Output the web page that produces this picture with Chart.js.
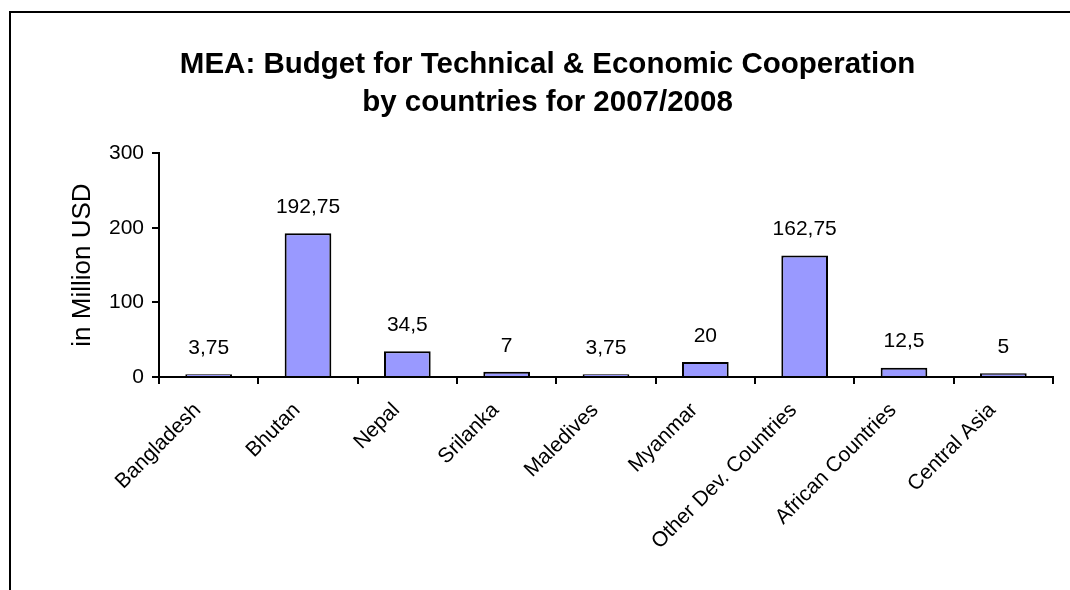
<!DOCTYPE html>
<html>
<head>
<meta charset="utf-8">
<script src="https://cdn.jsdelivr.net/npm/chart.js@4.4.0/dist/chart.umd.min.js"></script>
<style>
  html, body { margin: 0; padding: 0; background: #fff; }
  #wrap { position: relative; width: 1070px; height: 590px; }
  #frame {
    position: absolute; left: 9px; top: 11px; right: -5px; bottom: -5px;
    border-left: 2px solid #000; border-top: 2px solid #000;
  }
  canvas { position: absolute; left: 0; top: 0; }
</style>
</head>
<body>
<div id="wrap">
  <div id="frame"></div>
  <canvas id="chart" width="1070" height="590"></canvas>
</div>
<script>
const categories = ['Bangladesh', 'Bhutan', 'Nepal', 'Srilanka', 'Maledives', 'Myanmar', 'Other Dev. Countries', 'African Countries', 'Central Asia'];
const budget = [3.75, 192.75, 34.5, 7, 3.75, 20, 162.75, 12.5, 5];
const yTicks = [0, 100, 200, 300];
const titleLines = ['MEA: Budget for Technical & Economic Cooperation', 'by countries for 2007/2008'];

Chart.defaults.font.family = '"Liberation Sans", Arial, sans-serif';
Chart.defaults.color = '#000';

// value labels above each bar, comma as decimal separator
const valueLabels = {
  id: 'valueLabels',
  afterDatasetsDraw(chart) {
    const ctx = chart.ctx;
    const meta = chart.getDatasetMeta(0);
    ctx.save();
    ctx.font = '21px "Liberation Sans", Arial, sans-serif';
    ctx.fillStyle = '#000';
    ctx.textAlign = 'center';
    ctx.textBaseline = 'middle';
    meta.data.forEach((bar, i) => {
      const txt = String(budget[i]).replace('.', ',');
      ctx.fillText(txt, bar.x, bar.y - 26);
    });
    ctx.restore();
  }
};

new Chart(document.getElementById('chart'), {
  type: 'bar',
  data: {
    labels: categories,
    datasets: [{
      data: budget,
      backgroundColor: '#9999FF',
      borderColor: '#000',
      borderWidth: 2,
      borderSkipped: 'bottom',
      barPercentage: 0.47,
      categoryPercentage: 1.0
    }]
  },
  options: {
    responsive: false,
    animation: false,
    devicePixelRatio: 1,
    layout: {
      padding: { left: 42, right: 17, top: 28, bottom: 0 }
    },
    plugins: {
      legend: { display: false },
      tooltip: { enabled: false },
      title: {
        display: true,
        text: titleLines,
        font: { size: 29.5, weight: 'bold', lineHeight: 1.29 },
        color: '#000',
        padding: { top: 18, bottom: 31 }
      }
    },
    scales: {
      y: {
        min: 0,
        max: 300,
        afterBuildTicks(scale) {
          scale.ticks = yTicks.map(v => ({ value: v }));
        },
        afterFit(scale) {
          scale.width = 159 - 42;
        },
        ticks: {
          font: { size: 21 },
          padding: 8
        },
        grid: {
          drawOnChartArea: false,
          color: '#000',
          lineWidth: 2,
          tickLength: 7
        },
        border: { color: '#000', width: 2 },
        title: {
          display: true,
          text: 'in Million USD',
          font: { size: 26 },
          padding: { top: 25, bottom: 0 }
        }
      },
      x: {
        afterFit(scale) {
          scale.height = 590 - 377;
        },
        ticks: {
          font: { size: 21 },
          minRotation: 45,
          maxRotation: 45,
          padding: 14,
          labelOffset: -11
        },
        grid: {
          offset: true,
          drawOnChartArea: false,
          color: '#000',
          lineWidth: 2,
          tickLength: 7
        },
        border: { color: '#000', width: 2 }
      }
    }
  },
  plugins: [valueLabels]
});
</script>
</body>
</html>
